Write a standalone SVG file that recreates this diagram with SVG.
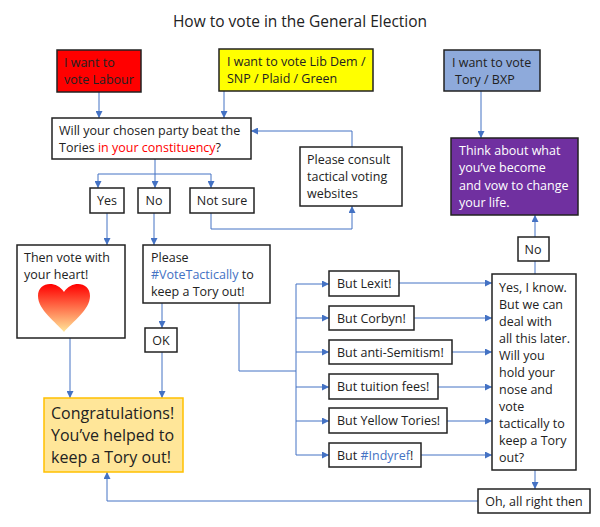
<svg xmlns="http://www.w3.org/2000/svg" width="600" height="527" viewBox="0 0 600 527">
<style>
text{font-family:"Open Sans","Liberation Sans",sans-serif;font-size:12.5px;fill:#222}
.b{fill:#fff;stroke:#222;stroke-width:1.5}
.c{fill:none;stroke:#4472c4;stroke-width:1}
.bl{fill:#4472c4}
</style>
<defs>
<marker id="a" viewBox="0 0 8 8" refX="8" refY="4" markerWidth="7" markerHeight="7" markerUnits="userSpaceOnUse" orient="auto"><path d="M0,0L8,4L0,8z" fill="#4472c4"/></marker>
<linearGradient id="h" x1="0" y1="0" x2="0" y2="1"><stop offset="0" stop-color="#ff0000"/><stop offset="1" stop-color="#ffe699"/></linearGradient>
</defs>
<rect width="600" height="527" fill="#fff"/>
<text x="300" y="27" text-anchor="middle" style="font-size:15.5px">How to vote in the General Election</text>
<g id="connectors" class="c" marker-end="url(#a)">
<path d="M99,92V118"/><path d="M224,91V118"/>
<path d="M155,159V174" marker-end="none"/><path d="M98,174H211" marker-end="none"/>
<path d="M98,174V188"/><path d="M155,174V188"/><path d="M211,174V188"/>
<path d="M211,213V229H352V206"/>
<path d="M352,147V131H251"/>
<path d="M481,91V138"/>
<path d="M107,213V245"/><path d="M154,213V245"/>
<path d="M162,303V328"/><path d="M162,352V398"/><path d="M70,338V398"/>
<path d="M239,303V371H296" marker-end="none"/><path d="M296,284V455" marker-end="none"/>
<path d="M296,284H329"/><path d="M296,318H329"/><path d="M296,352H329"/><path d="M296,387H329"/><path d="M296,421H329"/><path d="M296,455H329"/>
<path d="M399,283H492"/><path d="M414,318H492"/><path d="M452,352H492"/><path d="M438,387H492"/><path d="M447,421H492"/><path d="M421,455H492"/>
<path d="M535,274V261" marker-end="none"/><path d="M535,237V215"/>
<path d="M535,470V489"/>
<path d="M478,501H107V472"/>
</g>
<g id="labour"><rect x="57" y="50" width="84" height="42" fill="#ff0000" stroke="#222" stroke-width="1.5"/><text x="64" y="67">I want to</text><text x="64" y="84">vote Labour</text></g>
<g id="libdem"><rect x="219" y="49" width="154" height="42" fill="#ffff00" stroke="#222" stroke-width="1.5"/><text x="227" y="66">I want to vote Lib Dem /</text><text x="227" y="83">SNP / Plaid / Green</text></g>
<g id="tory"><rect x="444" y="50" width="96" height="41" fill="#8eaadb" stroke="#222" stroke-width="1.5"/><text x="452" y="67">I want to vote</text><text x="455" y="84">Tory / BXP</text></g>
<g id="question"><rect class="b" x="52" y="118" width="199" height="41"/><text x="59" y="135">Will your chosen party beat the</text><text x="59" y="152">Tories <tspan fill="#ff0000">in your constituency</tspan>?</text></g>
<g id="consult"><rect class="b" x="300" y="147" width="102" height="59"/><text x="307" y="164">Please consult</text><text x="307" y="181">tactical voting</text><text x="307" y="198">websites</text></g>
<g id="think"><rect x="451" y="138" width="127" height="77" fill="#7030a0" stroke="#222" stroke-width="1.5"/><text x="459" y="155" fill="#fff" style="fill:#fff">Think about what</text><text x="459" y="172" style="fill:#fff">you’ve become</text><text x="459" y="190" style="fill:#fff">and vow to change</text><text x="459" y="207" style="fill:#fff">your life.</text></g>
<g id="yes"><rect class="b" x="90" y="188" width="34" height="25"/><text x="107" y="205" text-anchor="middle">Yes</text></g>
<g id="no1"><rect class="b" x="138" y="188" width="32" height="25"/><text x="154" y="205" text-anchor="middle">No</text></g>
<g id="notsure"><rect class="b" x="190" y="188" width="64" height="25"/><text x="222" y="205" text-anchor="middle">Not sure</text></g>
<g id="heart"><rect class="b" x="17" y="245" width="108" height="93"/><text x="24" y="262">Then vote with</text><text x="24" y="279">your heart!</text>
<path d="M64,332C56,322 38,310 38,296C38,282 56,280 64,292C72,280 90,282 90,296C90,310 72,322 64,332Z" fill="url(#h)"/></g>
<g id="tactically"><rect class="b" x="143" y="245" width="127" height="58"/><text x="151" y="262">Please</text><text x="151" y="279"><tspan fill="#4472c4">#VoteTactically</tspan> to</text><text x="151" y="296">keep a Tory out!</text></g>
<g id="ok"><rect class="b" x="145" y="328" width="32" height="24"/><text x="161" y="345" text-anchor="middle">OK</text></g>
<g id="congrats"><rect x="44" y="398" width="139" height="74" fill="#ffe699" stroke="#ffc000" stroke-width="1.5"/><text x="51" y="419" style="font-size:16px">Congratulations!</text><text x="51" y="441" style="font-size:16px">You’ve helped to</text><text x="51" y="463" style="font-size:16px">keep a Tory out!</text></g>
<g id="lexit"><rect class="b" x="329" y="271" width="70" height="25"/><text x="337" y="288">But Lexit!</text></g>
<g id="corbyn"><rect class="b" x="329" y="306" width="85" height="24"/><text x="337" y="323">But Corbyn!</text></g>
<g id="semitism"><rect class="b" x="329" y="340" width="123" height="24"/><text x="337" y="357">But anti-Semitism!</text></g>
<g id="fees"><rect class="b" x="329" y="374" width="109" height="25"/><text x="337" y="391">But tuition fees!</text></g>
<g id="yellow"><rect class="b" x="329" y="408" width="118" height="25"/><text x="337" y="425">But Yellow Tories!</text></g>
<g id="indyref"><rect class="b" x="329" y="443" width="92" height="24"/><text x="337" y="460">But <tspan fill="#4472c4">#Indyref</tspan>!</text></g>
<g id="iknow"><rect class="b" x="492" y="274" width="84" height="196"/>
<text x="499" y="292">Yes, I know.</text><text x="499" y="309">But we can</text><text x="499" y="326">deal with</text><text x="499" y="343">all this later.</text><text x="499" y="360">Will you</text><text x="499" y="377">hold your</text><text x="499" y="394">nose and</text><text x="499" y="411">vote</text><text x="499" y="428">tactically to</text><text x="499" y="445">keep a Tory</text><text x="499" y="462">out?</text></g>
<g id="no2"><rect class="b" x="518" y="237" width="31" height="24"/><text x="533" y="254" text-anchor="middle">No</text></g>
<g id="allright"><rect class="b" x="478" y="489" width="112" height="24"/><text x="534" y="506" text-anchor="middle">Oh, all right then</text></g>
</svg>
